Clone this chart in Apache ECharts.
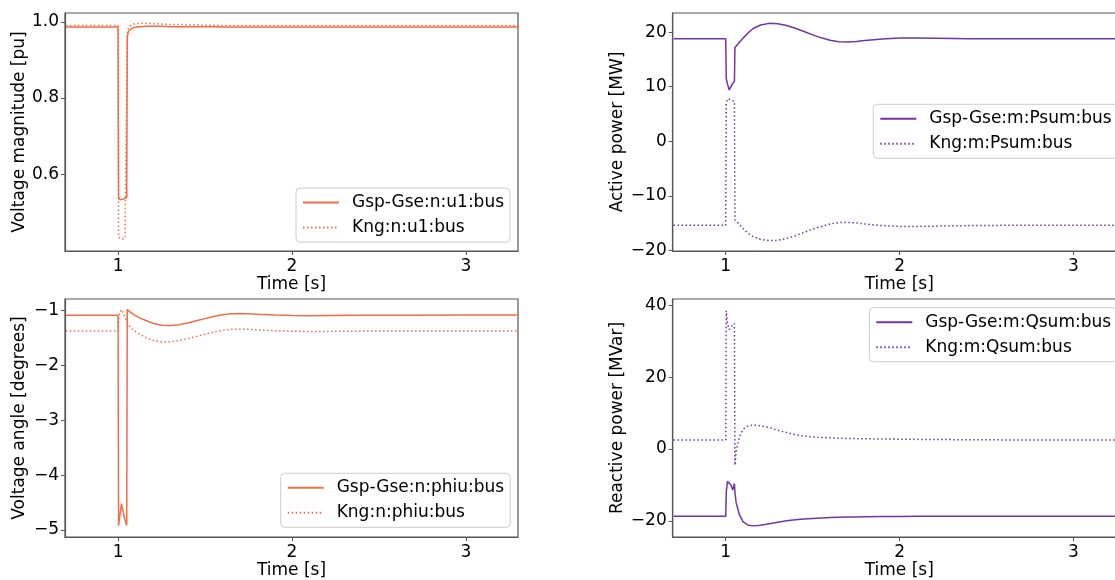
<!DOCTYPE html>
<html>
<head>
<meta charset="utf-8">
<script src="https://cdn.jsdelivr.net/npm/echarts@6/dist/echarts.min.js"></script>
<style>html,body{margin:0;padding:0;background:#fff;}#c{width:1115px;height:580px;}</style>
</head>
<body>
<div id="c"></div>
<script>
// Shared time axis [s]
const time = [0.7, 1.0, 1.003, 1.01, 1.02, 1.03, 1.04, 1.05, 1.053, 1.06, 1.08, 1.1, 1.13, 1.16, 1.2, 1.25, 1.3, 1.35, 1.4, 1.45, 1.5, 1.55, 1.6, 1.65, 1.7, 1.75, 1.8, 1.9, 2.0, 2.1, 2.2, 2.4, 2.6, 3.0, 3.3];

// Voltage magnitude [pu]
const u1Gsp = [0.986, 0.986, 0.540, 0.533, 0.533, 0.535, 0.537, 0.540, 0.960, 0.975, 0.983, 0.986, 0.987, 0.988, 0.988, 0.988, 0.987, 0.987, 0.987, 0.987, 0.987, 0.987, 0.986, 0.986, 0.986, 0.986, 0.986, 0.986, 0.986, 0.986, 0.986, 0.986, 0.986, 0.986, 0.986];
const u1Kng = [0.990, 0.990, 0.435, 0.430, 0.430, 0.430, 0.432, 0.435, 0.970, 0.985, 0.993, 0.995, 0.996, 0.996, 0.995, 0.994, 0.993, 0.993, 0.992, 0.992, 0.991, 0.991, 0.990, 0.990, 0.990, 0.990, 0.990, 0.990, 0.990, 0.990, 0.990, 0.990, 0.990, 0.990, 0.990];

// Voltage angle [degrees]
const phiGsp = [-1.085, -1.085, -4.92, -4.75, -4.52, -4.68, -4.82, -4.92, -0.98, -1.00, -1.05, -1.09, -1.14, -1.18, -1.23, -1.265, -1.27, -1.255, -1.225, -1.185, -1.145, -1.105, -1.075, -1.055, -1.05, -1.055, -1.065, -1.08, -1.09, -1.093, -1.09, -1.085, -1.082, -1.08, -1.08];
const phiKng = [-1.37, -1.37, -1.20, -1.02, -0.98, -1.05, -1.12, -1.20, -1.22, -1.26, -1.33, -1.38, -1.44, -1.49, -1.54, -1.57, -1.565, -1.545, -1.51, -1.47, -1.43, -1.39, -1.36, -1.34, -1.335, -1.34, -1.35, -1.365, -1.375, -1.38, -1.378, -1.372, -1.37, -1.37, -1.37];

// Active power [MW]
const pGsp = [18.8, 18.8, 11.5, 10.5, 9.4, 10.0, 10.6, 11.0, 17.2, 17.5, 18.2, 18.9, 19.9, 20.7, 21.3, 21.6, 21.55, 21.2, 20.7, 20.1, 19.5, 18.95, 18.5, 18.25, 18.2, 18.3, 18.45, 18.75, 18.9, 18.92, 18.88, 18.8, 18.78, 18.8, 18.8];
const pKng = [-15.4, -15.4, 7.0, 7.76, 7.7, 7.6, 7.5, 7.3, -14.4, -14.6, -15.3, -16.0, -16.9, -17.5, -17.95, -18.2, -18.15, -17.8, -17.3, -16.7, -16.1, -15.6, -15.15, -14.9, -14.85, -14.95, -15.15, -15.45, -15.6, -15.6, -15.55, -15.45, -15.4, -15.4, -15.4];

// Reactive power [MVar]
const qGsp = [-18.7, -18.7, -12.0, -9.0, -8.6, -10.0, -11.4, -9.6, -12.0, -15.0, -18.5, -20.3, -21.2, -21.4, -21.2, -20.8, -20.4, -20.0, -19.7, -19.5, -19.35, -19.2, -19.1, -19.0, -18.95, -18.9, -18.85, -18.8, -18.78, -18.75, -18.72, -18.7, -18.7, -18.7, -18.7];
const qKng = [2.5, 2.5, 38.5, 35.0, 33.3, 34.0, 34.5, 35.0, -4.5, -0.5, 3.6, 5.5, 6.5, 6.7, 6.5, 6.0, 5.2, 4.6, 4.0, 3.6, 3.4, 3.25, 3.1, 3.0, 2.95, 2.9, 2.85, 2.8, 2.75, 2.7, 2.65, 2.6, 2.55, 2.5, 2.5];

// Tick labels
const xTicks = [1, 2, 3];
const yTicksU = [0.6, 0.8, 1.0];
const yTicksPhi = [-5, -4, -3, -2, -1];
const yTicksP = [-20, -10, 0, 10, 20];
const yTicksQ = [-20, 0, 20, 40];

const names = ['Gsp-Gse:n:u1:bus', 'Kng:n:u1:bus', 'Gsp-Gse:n:phiu:bus', 'Kng:n:phiu:bus', 'Gsp-Gse:m:Psum:bus', 'Kng:m:Psum:bus', 'Gsp-Gse:m:Qsum:bus', 'Kng:m:Qsum:bus'];
const yNames = ['Voltage magnitude [pu]', 'Voltage angle [degrees]', 'Active power [MW]', 'Reactive power [MVar]'];

const ORANGE = '#ef6c45';
const PURPLE = '#7333a9';
const SPINE = '#555';
const FONT = 'DejaVu Sans';
const FS = 17;

const pair = (arr) => time.map((t, i) => [t, arr[i]]);
const minus = (s) => String(s).replace('-', '\u2212');

const grids = [
  {left: 65, top: 13, width: 453, height: 238},
  {left: 65, top: 299, width: 453, height: 238},
  {left: 672.7, top: 13, width: 453, height: 238},
  {left: 672.7, top: 299, width: 453, height: 238}
].map(g => Object.assign({show: true, borderColor: SPINE, borderWidth: 1.2, backgroundColor: 'transparent', containLabel: false, outerBoundsMode: 'none'}, g));

const yRanges = [[0.399, 1.023], [-5.128, -0.787], [-20.1, 23.5], [-24.5, 41.8]];
const yTickSets = [yTicksU, yTicksPhi, yTicksP, yTicksQ];
const yFmt = [v => v.toFixed(1), v => minus(v), v => minus(v), v => minus(v)];
const yGaps = [37, 37, 47, 47];

const axisText = {color: '#000', fontFamily: FONT, fontSize: FS};

const xAxis = grids.map((g, i) => ({
  type: 'value', gridIndex: i, min: 0.695, max: 3.3,
  name: 'Time [s]', nameLocation: 'middle', nameGap: 25, nameTextStyle: axisText,
  axisLine: {show: true, onZero: false, lineStyle: {color: SPINE, width: 1.2}},
  axisTick: {show: true, length: 4, lineStyle: {color: SPINE}, customValues: xTicks},
  axisLabel: Object.assign({margin: 7, customValues: xTicks, formatter: v => String(v)}, axisText),
  splitLine: {show: false}
}));

const yAxis = grids.map((g, i) => ({
  type: 'value', gridIndex: i, min: yRanges[i][0], max: yRanges[i][1],
  name: yNames[i], nameLocation: 'middle', nameGap: yGaps[i], nameRotate: 90, nameTextStyle: axisText,
  axisLine: {show: true, onZero: false, lineStyle: {color: SPINE, width: 1.2}},
  axisTick: {show: true, length: 4, lineStyle: {color: SPINE}, customValues: yTickSets[i]},
  axisLabel: Object.assign({margin: 6, customValues: yTickSets[i], formatter: yFmt[i]}, axisText),
  splitLine: {show: false}
}));

const dataSets = [u1Gsp, u1Kng, phiGsp, phiKng, pGsp, pKng, qGsp, qKng];
const series = dataSets.map((arr, k) => {
  const panel = Math.floor(k / 2);
  const dotted = k % 2 === 1;
  const color = panel < 2 ? ORANGE : PURPLE;
  return {
    type: 'line', name: names[k], xAxisIndex: panel, yAxisIndex: panel,
    data: pair(arr), showSymbol: false, symbol: 'none', clip: true, animation: false,
    color: color,
    lineStyle: {color: color, width: 1.5, type: dotted ? [1.5, 2.5] : 'solid'}
  };
});

const legendPos = [[296, 188], [280.7, 473.3], [873.3, 104.3], [869.3, 307.7]];
const legend = legendPos.map((p, i) => ({
  left: p[0], top: p[1], orient: 'vertical',
  data: [names[2 * i], names[2 * i + 1]],
  itemWidth: 36, itemHeight: 14, itemGap: 8,
  padding: [6, 6, 6, 6],
  itemStyle: {opacity: 0},
  backgroundColor: 'rgba(255,255,255,0.8)', borderColor: '#ccc', borderWidth: 1, borderRadius: 4,
  textStyle: {color: '#000', fontFamily: FONT, fontSize: FS, padding: [0, 0, 0, 8]},
  selectedMode: false
}));

const chart = echarts.init(document.getElementById('c'), null, {renderer: 'canvas'});
chart.setOption({
  animation: false,
  backgroundColor: '#fff',
  textStyle: {fontFamily: FONT},
  grid: grids, xAxis: xAxis, yAxis: yAxis, series: series, legend: legend
});
</script>
</body>
</html>
